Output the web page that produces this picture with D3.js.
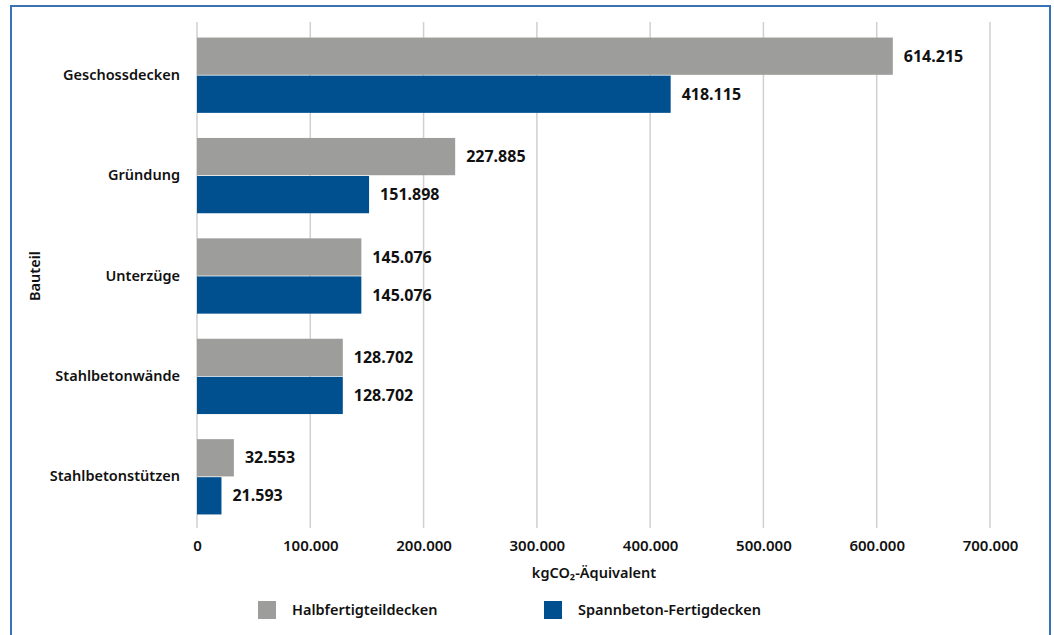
<!DOCTYPE html>
<html><head><meta charset="utf-8">
<script src="https://cdn.jsdelivr.net/npm/d3@7"></script>
<style>
html,body{margin:0;padding:0;background:#fff;}
svg{display:block;}
text{font-family:"Noto Sans","Open Sans",sans-serif;fill:#111;}
</style></head>
<body>
<svg id="c" width="1054" height="635"></svg>
<script>
const categories = ["Geschossdecken","Gründung","Unterzüge","Stahlbetonwände","Stahlbetonstützen"];
const seriesNames = ["Halbfertigteildecken","Spannbeton-Fertigdecken"];
const halbfertig = [614215, 227885, 145076, 128702, 32553];
const spannbeton = [418115, 151898, 145076, 128702, 21593];
const xTicks = [0,100000,200000,300000,400000,500000,600000,700000];
const colors = ["#9d9d9c","#004f8f"];

const svg = d3.select("#c");
const fmt = v => d3.format(",")(v).replace(/,/g,".");

// frame
svg.append("path").attr("d","M11,640 L11,6 L1050,6 L1050,640")
  .attr("fill","none").attr("stroke","#3a72b8").attr("stroke-width",2);

const x = d3.scaleLinear().domain([0,700000]).range([197,990]);
const y = d3.scaleBand().domain(categories).range([25,527]).paddingInner(0.25).paddingOuter(0.125);
const y2 = d3.scaleBand().domain(seriesNames).range([0,y.bandwidth()]).paddingInner(0.02);

// gridlines
svg.append("g").selectAll("line").data(xTicks).join("line")
  .attr("x1",d=>x(d)).attr("x2",d=>x(d)).attr("y1",22).attr("y2",528)
  .attr("stroke","#d0d0d0").attr("stroke-width",1.5);

// x axis labels
const xa = svg.append("g").attr("transform","translate(0,528)")
  .call(d3.axisBottom(x).tickValues(xTicks).tickSize(0).tickPadding(12).tickFormat(fmt));
xa.select(".domain").remove();
xa.selectAll("text").attr("font-size",15).attr("font-weight",600).attr("fill","#111")
  .attr("font-family","'Noto Sans',sans-serif");

// y axis labels
const ya = svg.append("g").attr("transform","translate(180,0)")
  .call(d3.axisLeft(y).tickSize(0).tickPadding(0));
ya.select(".domain").remove();
ya.selectAll("text").attr("font-size",14.5).attr("font-weight",600).attr("fill","#111")
  .attr("font-family","'Noto Sans',sans-serif");

const data = [halbfertig, spannbeton];
data.forEach((vals,si)=>{
  const g = svg.append("g");
  g.selectAll("rect").data(vals).join("rect")
    .attr("x",x(0)).attr("y",(d,i)=>y(categories[i])+y2(seriesNames[si]))
    .attr("width",d=>x(d)-x(0)).attr("height",y2.bandwidth())
    .attr("fill",colors[si]);
  g.selectAll("text").data(vals).join("text")
    .attr("x",d=>x(d)+11).attr("y",(d,i)=>y(categories[i])+y2(seriesNames[si])+y2.bandwidth()/2)
    .attr("dy","0.35em").attr("font-size",16).attr("font-weight",700)
    .attr("font-family","'Open Sans',sans-serif")
    .text(d=>fmt(d));
});

// axis titles
svg.append("text").attr("x",594).attr("y",578).attr("text-anchor","middle")
  .attr("font-size",14.5).attr("font-weight",600).text("kgCO₂-Äquivalent");
svg.append("text").attr("transform","translate(40,276) rotate(-90)").attr("text-anchor","middle")
  .attr("font-size",14.5).attr("font-weight",600).text("Bauteil");

// legend
const lx = [258,544];
seriesNames.forEach((n,i)=>{
  svg.append("rect").attr("x",lx[i]).attr("y",601).attr("width",18).attr("height",18).attr("fill",colors[i]);
  svg.append("text").attr("x",lx[i]+34).attr("y",610).attr("dy","0.35em")
    .attr("font-size",14.5).attr("font-weight",600).text(n);
});
</script>
</body></html>
